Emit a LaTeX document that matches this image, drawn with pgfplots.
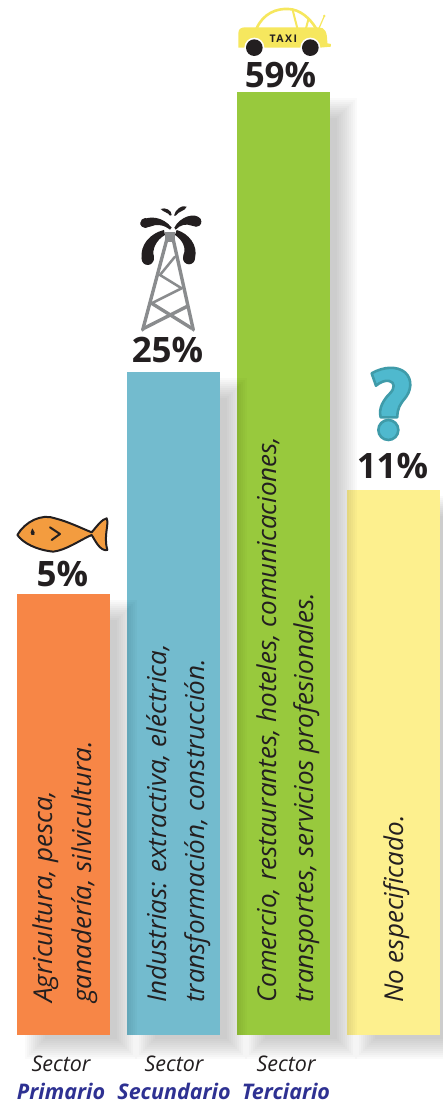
\documentclass[border=0pt]{standalone}
\usepackage{fontspec}
\setmainfont{Open Sans}
\usepackage{pgfplots}
\pgfplotsset{compat=1.18}

\definecolor{cOrange}{HTML}{F78646}
\definecolor{cBlue}{HTML}{73BBCE}
\definecolor{cGreen}{HTML}{98C93D}
\definecolor{cYellow}{HTML}{FDF08E}
\definecolor{cInk}{HTML}{231F20}
\definecolor{cNavy}{HTML}{2E3192}
\definecolor{cFish}{HTML}{F39C3F}
\definecolor{cTaxi}{HTML}{F6E75E}
\definecolor{cGrey}{HTML}{8A8C8E}
\definecolor{cQ}{HTML}{4FB9CE}
\definecolor{cQd}{HTML}{3F9BA9}

% soft shadow: #1 bar centre, #2 bar height
\newcommand{\barshadow}[2]{%
  \pgfplotsinvokeforeach{-10,-8,...,10}{%
    \fill[black,fill opacity=0.021]
      ({#1-28.5-(##1)},{-14-(##1)}) rectangle ({#1+63.5+(##1)},{#2-16+(##1)});
  }%
}
\newcommand{\bartext}[2]{\node[rotate=90,anchor=base west,inner sep=0pt,text=cInk,
  font=\itshape\fontsize{26}{30}\selectfont] at (#1,32) {#2};}

\begin{document}
\begin{tikzpicture}
\useasboundingbox (0,-68pt) rectangle (443pt,1035pt);
\begin{axis}[
    scale only axis,
    width=443pt, height=1035pt,
    xmin=0, xmax=443, ymin=0, ymax=1035,
    clip=false,
    axis line style={draw=none},
    tick style={draw=none},
    ytick=\empty,
    xtick={61,174,286},
    xticklabels={
      {Sector\\{\bfseries\color{cNavy}Primario}},
      {Sector\\{\bfseries\color{cNavy}Secundario}},
      {Sector\\{\bfseries\color{cNavy}Terciario}}},
    xticklabel style={align=center,text=cInk,yshift=-13pt,
      font=\itshape\fontsize{21.5}{28}\selectfont},
    ybar, bar width=93pt, bar shift=0pt,
    point meta=explicit,
    /pgf/number format/assume math mode=true,
    nodes near coords={\pgfmathprintnumber{\pgfplotspointmeta}\%},
    every node near coord/.append style={anchor=base,
      font=\bfseries\fontsize{35}{35}\selectfont,text=cInk,inner sep=0pt},
]
\barshadow{393.5}{545}
\addplot[draw=none,fill=cYellow,every node near coord/.append style={xshift=-1pt,yshift=11pt}]
  coordinates {(393.5,545) [11]};
\barshadow{283.5}{943}
\addplot[draw=none,fill=cGreen,every node near coord/.append style={xshift=-3pt,yshift=4pt}]
  coordinates {(283.5,943) [59]};
\barshadow{173.5}{663}
\addplot[draw=none,fill=cBlue,every node near coord/.append style={xshift=-6pt,yshift=9pt}]
  coordinates {(173.5,663) [25]};
\barshadow{63.5}{441}
\addplot[draw=none,fill=cOrange,every node near coord/.append style={xshift=-1pt,yshift=7pt}]
  coordinates {(63.5,441) [5]};

\bartext{52}{Agricultura, pesca,}
\bartext{91}{ganadería, silvicultura.}
\bartext{166}{Industrias: extractiva, eléctrica,}
\bartext{204}{transformación, construcción.}
\bartext{276}{Comercio, restaurantes, hoteles, comunicaciones,}
\bartext{313}{transportes, servicios profesionales.}
\bartext{403}{No especificado.}
\end{axis}

% fish, coordinates in 3x px from (0,500)
\begin{scope}[xshift=0pt,yshift=535pt,x=0.3333pt,y=-0.3333pt]
  \draw[cInk,line width=2pt,fill=cFish,line join=round]
    (52,105) .. controls (75,65) and (125,40) .. (165,55)
    .. controls (205,65) and (245,85) .. (275,97)
    .. controls (290,80) and (305,58) .. (320,55)
    .. controls (328,75) and (310,105) .. (322,150)
    .. controls (300,155) and (285,120) .. (275,105)
    .. controls (240,120) and (200,150) .. (160,155)
    .. controls (110,150) and (70,130) .. (52,105) -- cycle;
  \fill[cInk] (97,85) .. controls (102,95) and (108,100) .. (103,105)
    .. controls (97,108) and (90,103) .. (92,97) -- cycle;
  \draw[cInk,line width=2pt,line cap=round,line join=round] (150,82) -- (180,102) -- (155,120);
\end{scope}

% tower, 3x px from (120,195)
\begin{scope}[xshift=120pt,yshift=840pt,x=0.3333pt,y=-0.3333pt]
  \begin{scope}[cGrey,line width=3.4pt,line cap=round]
    \draw (140,135) -- (68,405);
    \draw (160,135) -- (220,405);
    \draw[line width=2.5pt] (120,240) -- (165,185);
    \draw[line width=2.5pt] (120,240) -- (185,280);
    \draw[line width=2.5pt] (185,280) -- (95,325);
    \draw (200,335) -- (72,400);
    \draw (95,325) -- (215,400);
  \end{scope}
  \fill[cGrey] (135,110) rectangle (166,142);
  \fill[cInk] (132,105) .. controls (90,115) and (60,150) .. (65,190)
    .. controls (70,215) and (105,212) .. (102,185)
    .. controls (95,165) and (108,135) .. (135,120) -- cycle;
  \fill[cInk] (83,192) circle (18);
  \fill[cInk] (170,105) .. controls (205,115) and (235,150) .. (225,190)
    .. controls (215,212) and (185,205) .. (190,180)
    .. controls (200,160) and (188,135) .. (165,120) -- cycle;
  \fill[cInk] (207,190) circle (18);
  \fill[cInk] (155,98) .. controls (130,65) and (85,60) .. (65,78)
    .. controls (52,95) and (75,102) .. (90,95)
    .. controls (108,87) and (130,88) .. (150,104) -- cycle;
  \fill[cInk] (76,84) circle (15);
  \fill[cInk] (163,98) .. controls (180,65) and (225,50) .. (242,72)
    .. controls (250,95) and (230,98) .. (215,92)
    .. controls (198,85) and (180,90) .. (167,104) -- cycle;
  \fill[cInk] (229,80) circle (15);
  \fill[cInk] (150,62) .. controls (145,52) and (130,52) .. (122,42)
    .. controls (135,36) and (155,45) .. (155,60) -- cycle;
  \fill[cInk] (162,62) .. controls (165,45) and (185,28) .. (200,35)
    .. controls (197,48) and (175,48) .. (167,62) -- cycle;
\end{scope}

% taxi, 3x px from (220,0)
\begin{scope}[xshift=220pt,yshift=1035pt,x=0.3333pt,y=-0.3333pt]
  \draw[cTaxi,line width=2.6pt] (110,85) .. controls (130,40) and (170,25) .. (205,27)
    .. controls (240,28) and (270,55) .. (288,85);
  \draw[cTaxi,line width=2pt] (218,30) -- (232,85);
  \draw[cTaxi,line width=2pt] (258,85) -- (266,55);
  \draw[cTaxi,line width=1.2pt] (297,85) -- (313,48);
  \fill[cTaxi] (313,48) circle (4);
  \fill[cTaxi] (55,143) -- (55,100) .. controls (55,88) and (62,82) .. (75,82)
    -- (295,82) .. controls (315,82) and (322,95) .. (322,130)
    -- (333,132) -- (333,140) -- (300,143) -- cycle;
  \foreach \wx in {103,271} {
    \fill[white] (\wx,143) circle (30);
    \fill[cInk] (\wx,143) circle (25);
  }
  \node[text=cInk,inner sep=0pt,font=\bfseries\fontsize{10.5}{10.5}\selectfont\addfontfeature{LetterSpace=14}]
    at (190,116) {TAXI};
\end{scope}

% question mark, 3x px from (340,355)
\begin{scope}[xshift=340pt,yshift=680pt,x=0.3333pt,y=-0.3333pt]
  \draw[cQd,line width=2.6pt,fill=cQ,line join=round]
    (95,55) .. controls (130,35) and (170,32) .. (195,52)
    .. controls (220,75) and (212,110) .. (195,130)
    .. controls (180,148) and (172,160) .. (172,187)
    -- (122,187) .. controls (115,160) and (130,135) .. (150,115)
    .. controls (165,100) and (165,82) .. (148,78)
    .. controls (135,75) and (120,82) .. (108,92) -- cycle;
  \draw[cQd,line width=2.6pt,fill=cQ] (145,225) circle (30);
\end{scope}
\end{tikzpicture}
\end{document}
